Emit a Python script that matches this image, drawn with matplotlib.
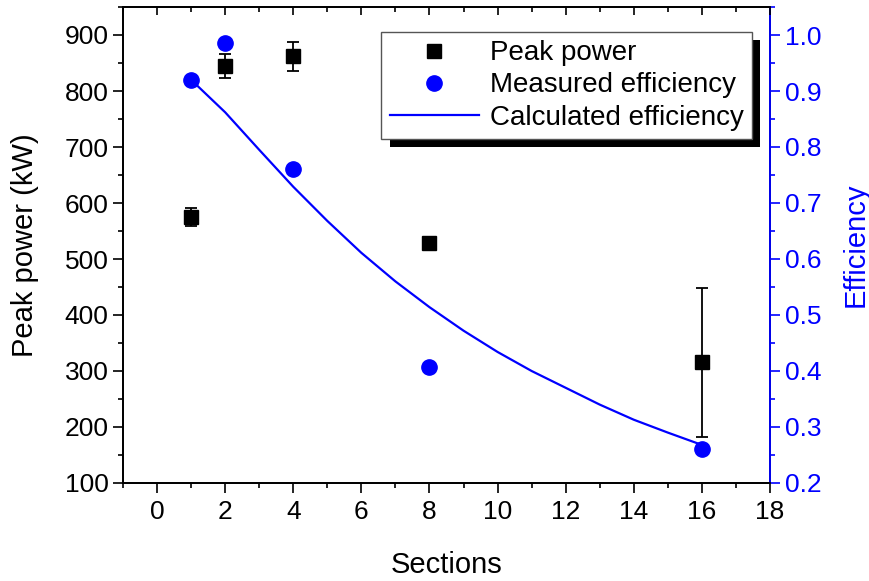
import matplotlib
matplotlib.use('Agg')
from matplotlib import pyplot as plt
from matplotlib import patheffects
from matplotlib.lines import Line2D
from matplotlib.ticker import MultipleLocator

plt.rcParams['font.family'] = ['Liberation Sans', 'DejaVu Sans']

# data
sections = [1, 2, 4, 8, 16]
peak_power = [575, 845, 862, 529, 316]
peak_power_err = [16, 21, 26, 10, 133]
measured_eff = [0.92, 0.986, 0.76, 0.408, 0.261]

calc_x = [1, 2, 3, 4, 5, 6, 7, 8, 9, 10, 11, 12, 13, 14, 15, 16]
calc_eff = [0.92, 0.862, 0.795, 0.729, 0.668, 0.611, 0.56, 0.514, 0.472,
            0.434, 0.40, 0.37, 0.34, 0.313, 0.29, 0.268]

blue = '#0000ff'

fig = plt.figure(figsize=(8.7, 5.81), dpi=100)
ax = fig.add_axes([123 / 870, 1 - 483 / 581, 647 / 870, 476 / 581])
ax2 = ax.twinx()

ax.errorbar(sections, peak_power, yerr=peak_power_err, fmt='s', color='k',
            markersize=10.5, capsize=4.5, elinewidth=1.3, capthick=1.3,
            zorder=3)
ax2.plot(sections, measured_eff, 'o', color=blue, markersize=11, zorder=3)
ax2.plot(calc_x, calc_eff, '-', color=blue, linewidth=1.6, zorder=2)

ax.set_xlim(-1, 18)
ax.set_ylim(100, 950)
ax2.set_ylim(0.2, 1.05)

ax.xaxis.set_major_locator(MultipleLocator(2))
ax.xaxis.set_minor_locator(MultipleLocator(1))
ax.yaxis.set_major_locator(MultipleLocator(100))
ax.yaxis.set_minor_locator(MultipleLocator(50))
ax2.yaxis.set_major_locator(MultipleLocator(0.1))
ax2.yaxis.set_minor_locator(MultipleLocator(0.05))

ax.tick_params(axis='x', which='both', direction='out', top=False, labelsize=19,
               width=1.2, pad=5)
ax.tick_params(axis='x', which='major', length=7)
ax.tick_params(axis='x', which='minor', length=3.5)
ax.tick_params(axis='y', which='both', direction='out', labelsize=19, width=1.2)
ax.tick_params(axis='y', which='major', length=7)
ax.tick_params(axis='y', which='minor', length=3.5)
ax2.tick_params(axis='y', which='both', direction='out', labelsize=19, width=1.2,
                colors=blue)
ax2.tick_params(axis='y', which='major', length=7)
ax2.tick_params(axis='y', which='minor', length=3.5)

# top ticks point inward, bottom outward
top = ax.twiny()
top.set_xlim(ax.get_xlim())
top.xaxis.set_major_locator(MultipleLocator(2))
top.xaxis.set_minor_locator(MultipleLocator(1))
top.tick_params(axis='x', which='both', direction='in', labeltop=False, width=1.2)
top.tick_params(axis='x', which='major', length=6)
top.tick_params(axis='x', which='minor', length=3.5)
for s in top.spines.values():
    s.set_visible(False)

for s in ax.spines.values():
    s.set_linewidth(1.3)
for s in ax2.spines.values():
    s.set_linewidth(1.3)
ax2.spines['right'].set_color(blue)

ax.set_xlabel('Sections', fontsize=21, labelpad=20)
ax.set_ylabel('Peak power (kW)', fontsize=21, labelpad=18)
ax2.set_ylabel('Efficiency', fontsize=21, color=blue, labelpad=15)

handles = [
    Line2D([], [], marker='s', color='k', linestyle='none', markersize=10.5),
    Line2D([], [], marker='o', color=blue, linestyle='none', markersize=11),
    Line2D([], [], color=blue, linewidth=1.6),
]
labels = ['Peak power', 'Measured efficiency', 'Calculated efficiency']
leg = top.legend(handles, labels, loc='upper right',
                 bbox_to_anchor=(752 / 870, 1 - 32 / 581),
                 bbox_transform=fig.transFigure, borderaxespad=0,
                 fontsize=20, fancybox=False, framealpha=1, edgecolor='#555555',
                 handlelength=3.2, handletextpad=0.4, labelspacing=0.22,
                 borderpad=0.3)
leg.get_frame().set_linewidth(1.0)
leg.get_frame().set_path_effects([
    patheffects.SimplePatchShadow(offset=(6, -6), shadow_rgbFace='k', alpha=1),
    patheffects.Normal()])

fig.savefig('out.png', dpi=100)
